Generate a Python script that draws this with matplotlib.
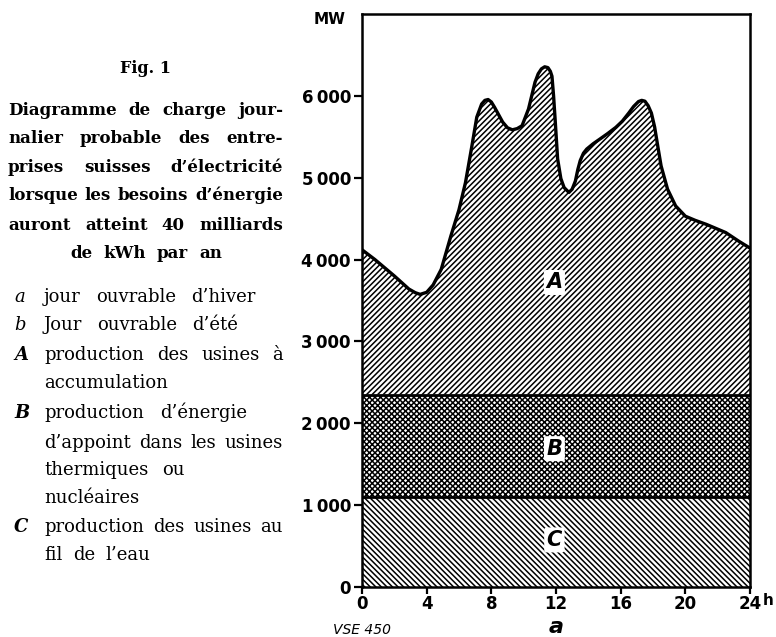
import matplotlib
matplotlib.use("Agg")
import matplotlib.pyplot as plt
from matplotlib.transforms import IdentityTransform

# ---------------- data ----------------
hours = [0, 0.8, 2.0, 2.9, 3.3, 3.6, 4.0, 4.4, 4.9, 5.5, 6.0, 6.4, 6.8, 7.1,
         7.4, 7.6, 7.8, 8.0, 8.2, 8.7, 9.0, 9.3, 9.6, 9.9, 10.3, 10.7, 10.9,
         11.1, 11.3, 11.5, 11.65, 11.75, 11.85, 11.95, 12.1, 12.3, 12.5, 12.8,
         13.0, 13.2, 13.35, 13.5, 13.7, 13.9, 14.3, 14.7, 15.2, 15.7, 16.1,
         16.5, 16.8, 17.1, 17.3, 17.5, 17.7, 17.9, 18.1, 18.3, 18.5, 18.9,
         19.4, 20.0, 20.6, 21.3, 22.5, 23.3, 24]
load_mw = [4120, 4000, 3800, 3640, 3595, 3575, 3600, 3690, 3880, 4290, 4610,
           4940, 5390, 5740, 5900, 5945, 5955, 5925, 5860, 5680, 5610, 5585,
           5600, 5635, 5840, 6165, 6270, 6330, 6355, 6345, 6300, 6240, 6000,
           5700, 5230, 4990, 4880, 4820, 4860, 4960, 5100, 5210, 5300, 5350,
           5415, 5470, 5540, 5615, 5690, 5790, 5870, 5930, 5945, 5935, 5880,
           5790, 5620, 5380, 5145, 4860, 4655, 4530, 4480, 4430, 4330, 4225,
           4140]
level_c = 1100   # production des usines au fil de l'eau
level_b = 2350   # C + énergie d'appoint
y_ticks = [0, 1000, 2000, 3000, 4000, 5000, 6000]
y_ticklabels = ["0", "1\u2009000", "2\u2009000", "3\u2009000", "4\u2009000",
                "5\u2009000", "6\u2009000"]
x_ticks = [0, 4, 8, 12, 16, 20, 24]
x_ticklabels = ["0", "4", "8", "12", "16", "20", "24"]
area_labels = ["A", "B", "C"]

fig_title = "Fig. 1"
title_lines = ["Diagramme de charge jour-",
               "nalier probable des entre-",
               "prises suisses d’électricité",
               "lorsque les besoins d’énergie",
               "auront atteint 40 milliards",
               "de kWh par an"]
legend_keys = ["a", "b", "A", "", "B", "", "", "", "C", ""]
legend_lines = ["jour ouvrable d’hiver",
                "Jour ouvrable d’été",
                "production des usines à",
                "accumulation",
                "production d’énergie",
                "d’appoint dans les usines",
                "thermiques ou",
                "nucléaires",
                "production des usines au",
                "fil de l’eau"]

# ---------------- figure ----------------
W, H = 776, 637
fig = plt.figure(figsize=(W / 100, H / 100), dpi=100)
plt.rcParams["hatch.linewidth"] = 1.1

ax = fig.add_axes([362 / W, 1 - 587 / H, (750 - 362) / W, (587 - 14) / H])
ax.set_xlim(0, 24)
ax.set_ylim(0, 7000)

ax.fill_between([0, 24], 0, level_c, facecolor="white", edgecolor="black",
                hatch="\\" * 6, linewidth=0)
ax.fill_between([0, 24], level_c, level_b, facecolor="white",
                edgecolor="black", hatch="x" * 6, linewidth=0)
ax.fill_between(hours, level_b, load_mw, facecolor="white", edgecolor="black",
                hatch="/" * 6, linewidth=0)
ax.plot(hours, load_mw, color="black", lw=2.4, solid_joinstyle="round",
        solid_capstyle="round")
ax.plot([0, 24], [level_c, level_c], color="black", lw=2.0)
ax.plot([0, 24], [level_b, level_b], color="black", lw=2.0)

for sp in ax.spines.values():
    sp.set_linewidth(1.8)

lab_font = dict(family="DejaVu Sans", fontweight="bold", fontsize=12)
ax.set_yticks(y_ticks)
ax.set_yticklabels(y_ticklabels, **lab_font)
ax.set_xticks(x_ticks)
ax.set_xticklabels(x_ticklabels, **lab_font)
ax.tick_params(axis="y", direction="out", length=6, width=1.6, pad=2)
ax.tick_params(axis="x", direction="out", length=5, width=1.6, pad=1)

ax.annotate("h", xy=(24, 0), xycoords="data", xytext=(9, -4.5),
            textcoords="offset points", ha="left", va="top",
            family="DejaVu Sans", fontweight="bold", fontsize=11)
fig.text(330 / W, 1 - 20 / H, "MW", ha="center", va="center",
         family="DejaVu Sans", fontweight="bold", fontsize=11)
fig.text(556 / W, 1 - 627 / H, "a", ha="center", va="center",
         family="DejaVu Sans", fontweight="bold", style="italic", fontsize=16)
fig.text(333 / W, 1 - 630 / H, "VSE 450", ha="left", va="center",
         family="DejaVu Sans", style="italic", fontsize=10)

area_pos = [(11.9, 3720), (11.9, 1690), (11.9, 575)]
for lab, (x, y) in zip(area_labels, area_pos):
    ax.text(x, y, lab, ha="center", va="center", family="DejaVu Sans",
            style="italic", fontweight="bold", fontsize=15,
            bbox=dict(boxstyle="round,pad=0.12", facecolor="white",
                      edgecolor="none"))

# ---------------- left text block ----------------
renderer = fig.canvas.get_renderer()
tr = IdentityTransform()


def put_line(text, base_y, x0, x1=None, **fp):
    words = text.split(" ")
    objs = [fig.text(0, 0, w, transform=tr, ha="left", va="baseline", **fp)
            for w in words]
    widths = [o.get_window_extent(renderer).width for o in objs]
    if x1 is not None and len(words) > 1:
        gap = (x1 - x0 - sum(widths)) / (len(words) - 1)
    else:
        gap = 6
    x = x0
    for o, w in zip(objs, widths):
        o.set_position((x, H - base_y))
        x += w + gap


fig.text(146 / W, 1 - 73 / H, fig_title, ha="center", va="baseline",
         family="DejaVu Serif", fontweight="bold", fontsize=11.5)

title_fp = dict(family="DejaVu Serif", fontweight="bold", fontsize=12)
title_base = [115, 143, 172, 200, 230, 258]
for i, (line, yb) in enumerate(zip(title_lines, title_base)):
    if i == len(title_lines) - 1:
        put_line(line, yb, 70, 222, **title_fp)
    else:
        put_line(line, yb, 8, 283, **title_fp)

leg_fp = dict(family="DejaVu Serif", fontsize=13)
leg_base = [302, 330, 360, 388, 418, 448, 475, 503, 532, 560]
leg_ends = [255, 238, 283, None, 247, 283, 185, None, 283, 150]
for key, line, yb, xe in zip(legend_keys, legend_lines, leg_base, leg_ends):
    if key:
        upper = key.isupper()
        fig.text(14, H - yb, key, transform=tr, ha="left", va="baseline",
                 family="DejaVu Serif", style="italic",
                 fontweight="bold" if upper else "normal", fontsize=13)
    put_line(line, yb, 44, xe, **leg_fp)

fig.savefig("out.png", dpi=100, facecolor="white")
